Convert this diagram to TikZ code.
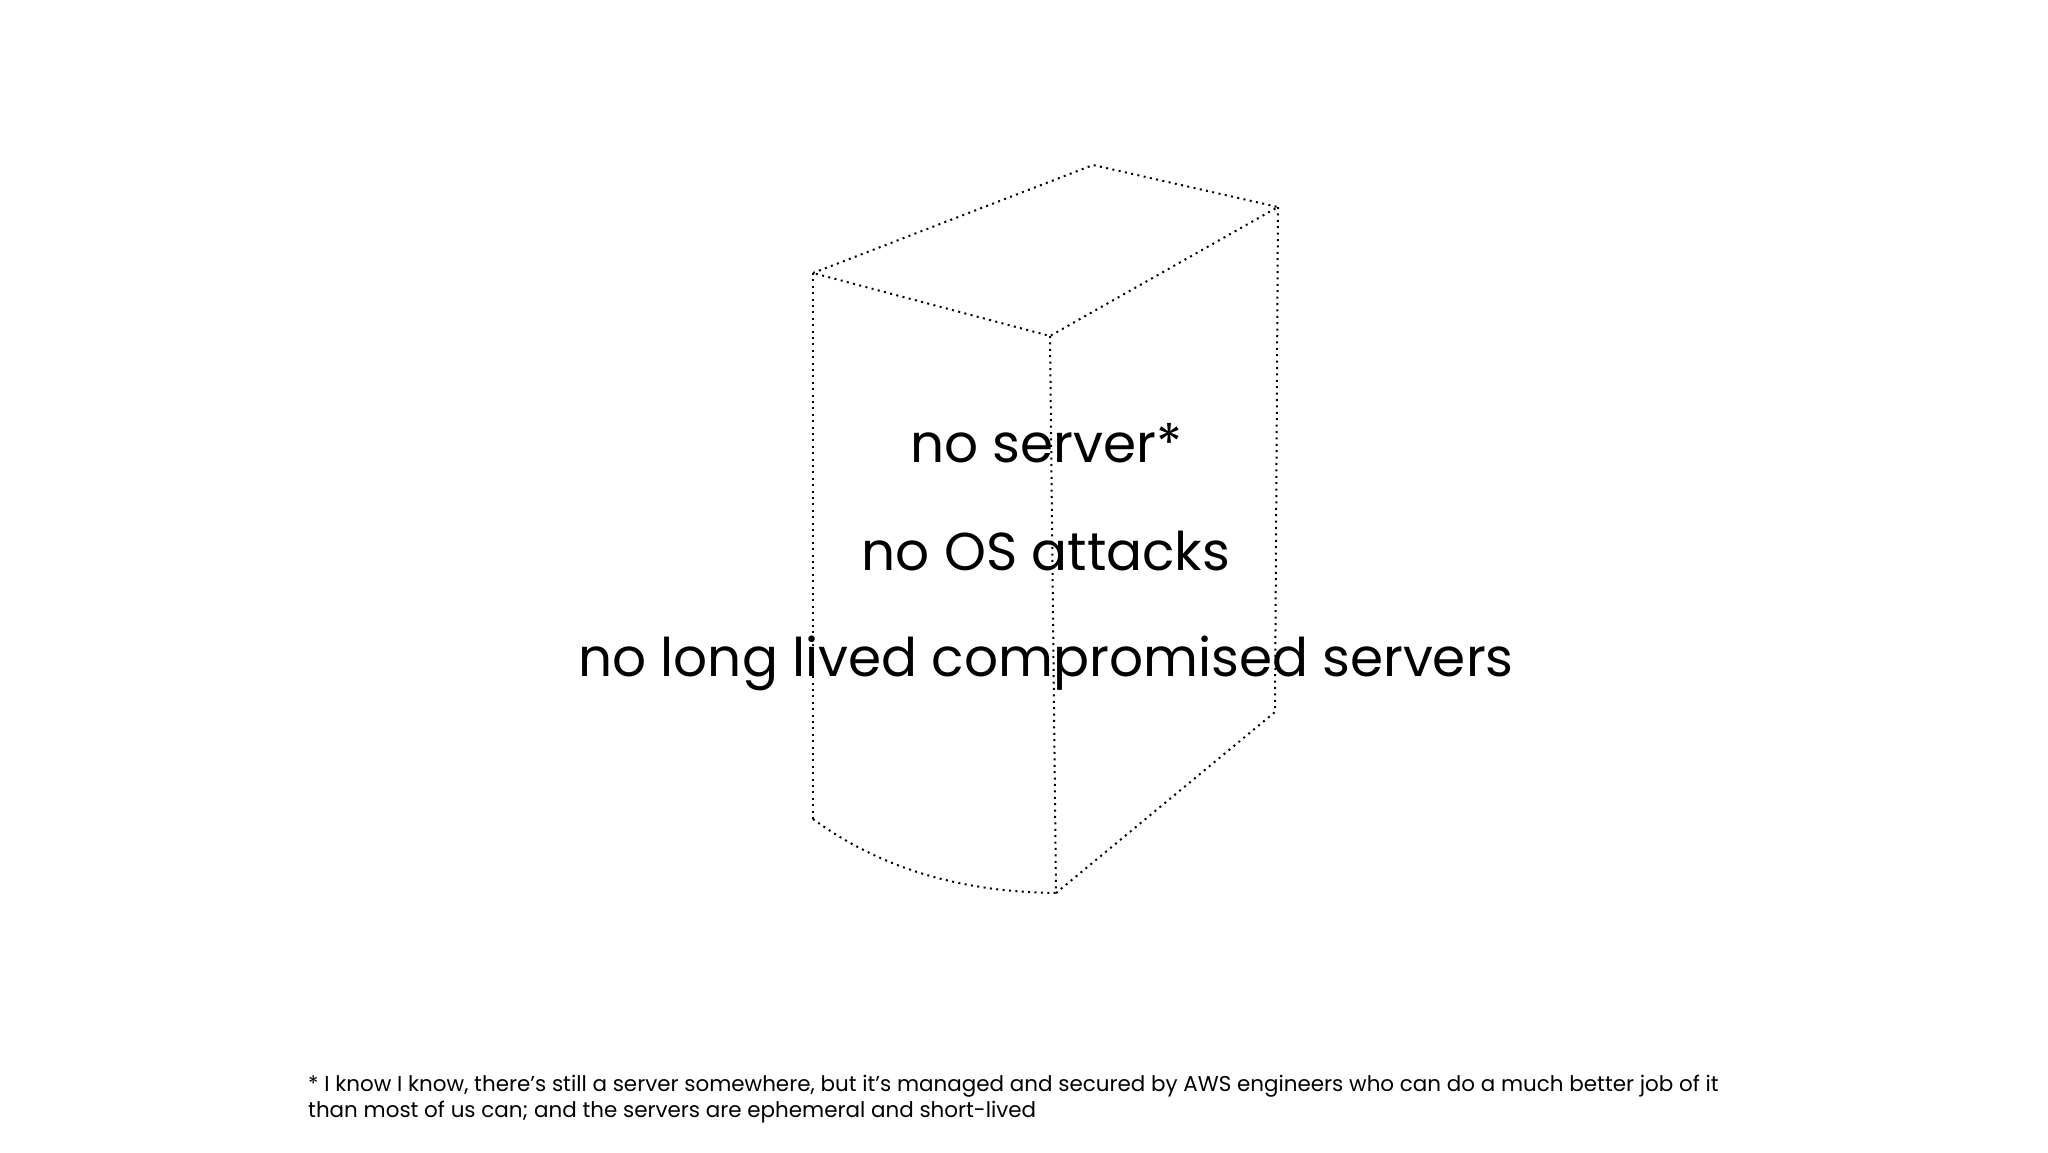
\documentclass[tikz,border=0pt]{standalone}
\usepackage{fontspec}
\setmainfont{Poppins}
\begin{document}
\begin{tikzpicture}[x=1pt, y=-1pt]
	\tikzset{edge/.style={dash pattern=on 2pt off 4.4pt, line width=2pt, black},
		bigtext/.style={inner sep=0pt, font=\fontsize{53.3}{53.3}\selectfont, text=black},
		smalltext/.style={inner sep=0pt, anchor=north west, align=left, font=\fontsize{21.45}{26}\selectfont, text=black}}
	\useasboundingbox (0,0) rectangle (2048,1152);
	
	\coordinate (topb) at (1093,165);
	\coordinate (topr) at (1278,207);
	\coordinate (topl) at (813,273);
	\coordinate (topf) at (1050,336);
	\coordinate (botl) at (813,819);
	\coordinate (botf) at (1056,893);
	\coordinate (botr) at (1275,712);
	
	\draw[edge] (topl) -- (topb) -- (topr) -- (topf) -- (topl);
	\draw[edge] (topl) -- (botl);
	\draw[edge] (topf) -- (botf);
	\draw[edge] (topr) -- (botr) -- (botf);
	\draw[edge] (botl) .. controls (880,868) and (960,892) .. (botf);
	
	\node[bigtext] (line1) at (1046,443) {no server*};
	\node[bigtext] (line2) at (1046,551) {no OS attacks};
	\node[bigtext] (line3) at (1046,663) {no long lived compromised servers};
	\node[smalltext] (note) at (308,1075) {* I know I know, there’s still a server somewhere, but it’s managed and secured by AWS engineers who can do a much better job of it\\than most of us can; and the servers are ephemeral and short-lived};
\end{tikzpicture}
\end{document}
